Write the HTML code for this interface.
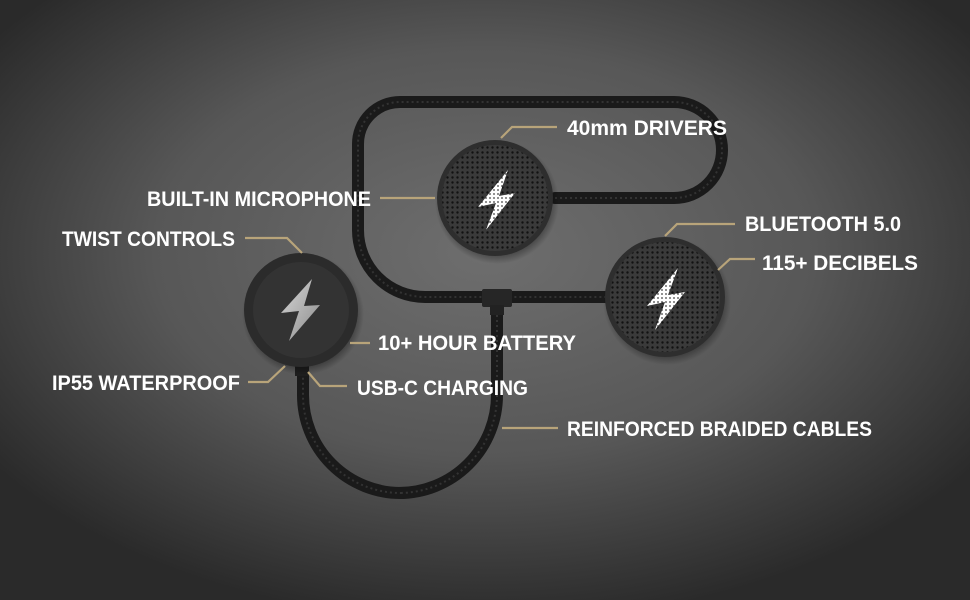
<!DOCTYPE html>
<html><head><meta charset="utf-8"><style>
html,body{margin:0;padding:0;width:970px;height:600px;overflow:hidden;background:#3a3a3a}
svg{display:block}
text{font-family:"Liberation Sans Narrow","Liberation Sans",sans-serif;font-weight:bold;font-size:21px;fill:#fff}
</style></head><body>
<svg width="970" height="600" viewBox="0 0 970 600" xmlns="http://www.w3.org/2000/svg">
<defs>
<radialGradient id="bg" cx="0.5" cy="0.42" r="0.62">
<stop offset="0" stop-color="#6e6e6e"/><stop offset="0.55" stop-color="#575757"/><stop offset="1" stop-color="#2a2a2a"/>
</radialGradient>
<pattern id="dots" width="5" height="5" patternUnits="userSpaceOnUse">
<rect width="5" height="5" fill="#3a3a3a"/><circle cx="2.5" cy="2.5" r="1.2" fill="#111"/>
</pattern>
<pattern id="wd" width="4" height="4" patternUnits="userSpaceOnUse">
<rect width="4" height="4" fill="#fff"/><circle cx="2" cy="2" r="0.9" fill="#444"/>
</pattern>
<linearGradient id="bolt" x1="0" y1="0" x2="1" y2="1"><stop offset="0" stop-color="#d8d8d8"/><stop offset="1" stop-color="#8a8a8a"/></linearGradient>
<radialGradient id="sh"><stop offset="0.8" stop-color="#000" stop-opacity="0.45"/><stop offset="1" stop-color="#000" stop-opacity="0"/></radialGradient>
</defs>
<rect width="970" height="600" fill="url(#bg)"/>

<g fill="none" stroke="#1a1a1a" stroke-width="12" stroke-linecap="round">
<path d="M555 198 L674 198 A48 48 0 0 0 674 102 L400 102 A42 42 0 0 0 358 144 L358 230 A67 67 0 0 0 425 297 L605 297"/>
<path d="M497 305 L497 395 A98 98 0 0 1 399 493 L401 493 A98 98 0 0 1 303 395 L303 365"/>
</g>
<g fill="none" stroke="#333" stroke-width="2" stroke-dasharray="2 3">
<path d="M555 198 L674 198 A48 48 0 0 0 674 102 L400 102 A42 42 0 0 0 358 144 L358 230 A67 67 0 0 0 425 297 L605 297"/>
<path d="M497 305 L497 395 A98 98 0 0 1 399 493 L401 493 A98 98 0 0 1 303 395 L303 365"/>
</g>
<rect x="482" y="289" width="30" height="18" rx="2" fill="#262626"/>
<rect x="490" y="305" width="14" height="10" fill="#222"/>
<rect x="295" y="362" width="14" height="14" fill="#1e1e1e"/>

<circle cx="497" cy="202" r="62" fill="url(#sh)"/>
<circle cx="495" cy="198" r="58" fill="#2e2e2e"/>
<circle cx="495" cy="198" r="53" fill="url(#dots)"/>
<path d="M508 170 L478 207 L496 203 L486 230 L515 193 L499 196 Z" fill="url(#wd)"/>
<circle cx="667" cy="301" r="64" fill="url(#sh)"/>
<circle cx="665" cy="297" r="60" fill="#2e2e2e"/>
<circle cx="665" cy="297" r="55" fill="url(#dots)"/>
<path d="M678 268 L647 306 L665 302 L655 330 L685 292 L668 295 Z" fill="url(#wd)"/>
<circle cx="303" cy="314" r="61" fill="url(#sh)"/>
<circle cx="301" cy="310" r="57" fill="#2b2b2b"/>
<circle cx="301" cy="310" r="48" fill="#333"/>
<path d="M312 279 L281 313 L299 311 L289 341 L320 305 L304 306 Z" fill="url(#bolt)"/>

<g fill="none" stroke="#b8a47a" stroke-width="2.2">
<path d="M501 138 L512 127 L557 127"/>
<path d="M380 198 L435 198"/>
<path d="M245 238 L287 238 L302 253"/>
<path d="M665 236 L677 224 L735 224"/>
<path d="M718 270 L730 259 L755 259"/>
<path d="M350 343 L370 343"/>
<path d="M248 382 L268 382 L285 366"/>
<path d="M308 372 L320 386 L347 386"/>
<path d="M502 428 L558 428"/>
</g>

<text x="567" y="135" textLength="160" lengthAdjust="spacingAndGlyphs">40mm DRIVERS</text>
<text x="147" y="206" textLength="224" lengthAdjust="spacingAndGlyphs">BUILT-IN MICROPHONE</text>
<text x="62" y="246" textLength="173" lengthAdjust="spacingAndGlyphs">TWIST CONTROLS</text>
<text x="745" y="231" textLength="156" lengthAdjust="spacingAndGlyphs">BLUETOOTH 5.0</text>
<text x="762" y="270" textLength="156" lengthAdjust="spacingAndGlyphs">115+ DECIBELS</text>
<text x="378" y="350" textLength="198" lengthAdjust="spacingAndGlyphs">10+ HOUR BATTERY</text>
<text x="52" y="390" textLength="188" lengthAdjust="spacingAndGlyphs">IP55 WATERPROOF</text>
<text x="357" y="395" textLength="171" lengthAdjust="spacingAndGlyphs">USB-C CHARGING</text>
<text x="567" y="436" textLength="305" lengthAdjust="spacingAndGlyphs">REINFORCED BRAIDED CABLES</text>
</svg>
</body></html>
